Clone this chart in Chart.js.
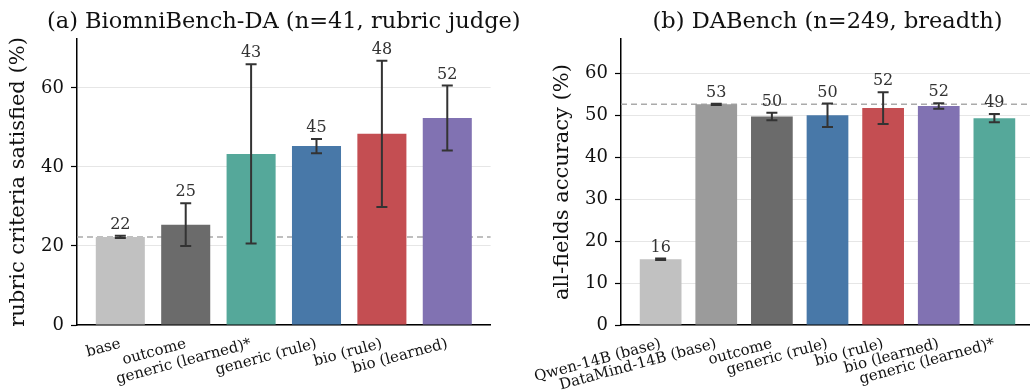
<!DOCTYPE html>
<html>
<head>
<meta charset="utf-8">
<script src="https://cdn.jsdelivr.net/npm/chart.js@4.4.1/dist/chart.umd.min.js"></script>
<style>
  html, body { margin: 0; padding: 0; background: #fff; overflow: hidden; }
  #wrap { position: relative; width: 1030px; height: 392px; overflow: hidden; }
  .panel { position: absolute; top: 0; height: 392px; }
</style>
</head>
<body>
<div id="wrap">
  <div class="panel" style="left:0;width:520px"><canvas id="left" width="520" height="392"></canvas></div>
  <div class="panel" style="left:520px;width:520px"><canvas id="right" width="520" height="392"></canvas></div>
</div>
<script>
// (a) BiomniBench-DA
const leftLabels = ["base", "outcome", "generic (learned)*", "generic (rule)", "bio (rule)", "bio (learned)"];
const leftMeans = [22.3, 25.4, 43.3, 45.3, 48.4, 52.4];
const leftErrs = [0.3, 5.4, 22.7, 1.8, 18.5, 8.2];
const leftColors = ["#c1c1c1", "#6b6b6b", "#55a89a", "#4878a8", "#c44e52", "#8172b2"];
const leftTicks = [0, 20, 40, 60];

// (b) DABench
const rightLabels = ["Qwen-14B (base)", "DataMind-14B (base)", "outcome", "generic (rule)", "bio (rule)", "bio (learned)", "generic (learned)*"];
const rightMeans = [15.7, 52.7, 49.8, 50.1, 51.8, 52.3, 49.4];
const rightErrs = [0.2, 0.15, 0.9, 2.8, 3.8, 0.65, 1.0];
const rightColors = ["#c1c1c1", "#9b9b9b", "#6b6b6b", "#4878a8", "#c44e52", "#8172b2", "#55a89a"];
const rightTicks = [0, 10, 20, 30, 40, 50, 60];

const serif = "'DejaVu Serif', serif";

const barExtras = {
  id: "barExtras",
  beforeDatasetsDraw(chart, args, opts) {
    const { ctx, chartArea, scales } = chart;
    const y = scales.y.getPixelForValue(opts.ref);
    ctx.save();
    ctx.strokeStyle = "#aaaaaa";
    ctx.lineWidth = 1.5;
    ctx.setLineDash([6, 4]);
    ctx.beginPath();
    ctx.moveTo(chartArea.left, y);
    ctx.lineTo(chartArea.right, y);
    ctx.stroke();
    ctx.restore();
  },
  afterDatasetsDraw(chart, args, opts) {
    const { ctx, scales } = chart;
    const meta = chart.getDatasetMeta(0);
    ctx.save();
    ctx.strokeStyle = "#333";
    ctx.fillStyle = "#333";
    ctx.lineWidth = 2;
    ctx.font = "16px " + serif;
    ctx.textAlign = "center";
    ctx.textBaseline = "bottom";
    meta.data.forEach((bar, i) => {
      const m = opts.means[i], e = opts.errs[i];
      const top = scales.y.getPixelForValue(m + e);
      const bot = scales.y.getPixelForValue(m - e);
      ctx.beginPath();
      ctx.moveTo(bar.x, top); ctx.lineTo(bar.x, bot);
      ctx.moveTo(bar.x - 5.5, top); ctx.lineTo(bar.x + 5.5, top);
      ctx.moveTo(bar.x - 5.5, bot); ctx.lineTo(bar.x + 5.5, bot);
      ctx.stroke();
      ctx.fillText(String(Math.round(m)), bar.x, top - 3);
    });
    // panel title
    const ca = chart.chartArea;
    ctx.fillStyle = "#111";
    ctx.font = "22.5px " + serif;
    ctx.textBaseline = "alphabetic";
    ctx.fillText(opts.title, (ca.left + ca.right) / 2, 28);
    ctx.restore();
  }
};

function makeChart(id, labels, means, errs, colors, ticks, ymax, yTitle, title, yWidth, titlePad, padRight) {
  const n = labels.length;
  const margin = 0.375 + 0.05 * (n - 1 + 0.75);
  return new Chart(document.getElementById(id), {
    type: "bar",
    data: {
      datasets: [{
        data: means.map((m, i) => ({ x: i, y: m })),
        backgroundColor: colors,
        categoryPercentage: 1,
        barPercentage: 0.75,
      }],
    },
    plugins: [barExtras],
    options: {
      responsive: false,
      animation: false,
      layout: { padding: { top: 39, right: padRight, left: 0, bottom: 0 } },
      plugins: {
        legend: { display: false },
        tooltip: { enabled: false },
        barExtras: { means, errs, ref: means[id === "left" ? 0 : 1], title },
      },
      scales: {
        x: {
          type: "linear",
          offset: false,
          min: -margin,
          max: n - 1 + margin,
          grid: { display: false, offset: false },
          border: { color: "#000", width: 1.5 },
          afterBuildTicks: (s) => { s.ticks = labels.map((_, i) => ({ value: i })); },
          afterFit: (s) => { s.height = 67; },
          ticks: {
            autoSkip: false,
            maxRotation: 15,
            minRotation: 15,
            padding: 2,
            color: "#111",
            font: { family: serif, size: 15 },
            callback: (v) => labels[v],
          },
        },
        y: {
          min: 0,
          max: ymax,
          border: { color: "#000", width: 1.5 },
          grid: { color: "#e6e6e6", lineWidth: 1, tickColor: "#000", tickLength: 6, tickWidth: 1.2 },
          afterBuildTicks: (s) => { s.ticks = ticks.map((v) => ({ value: v })); },
          afterFit: (s) => { s.width = yWidth; },
          ticks: { padding: 7, color: "#111", font: { family: serif, size: 18 } },
          title: { display: true, text: yTitle, color: "#111", font: { family: serif, size: 21 }, padding: { top: titlePad } },
        },
      },
    },
  });
}

makeChart("left", leftLabels, leftMeans, leftErrs, leftColors, leftTicks, 72.4,
  "rubric criteria satisfied (%)", "(a) BiomniBench-DA (n=41, rubric judge)", 77, 6, 29.4);
makeChart("right", rightLabels, rightMeans, rightErrs, rightColors, rightTicks, 68.3,
  "all-fields accuracy (%)", "(b) DABench (n=249, breadth)", 101, 30, 6);
</script>
</body>
</html>
